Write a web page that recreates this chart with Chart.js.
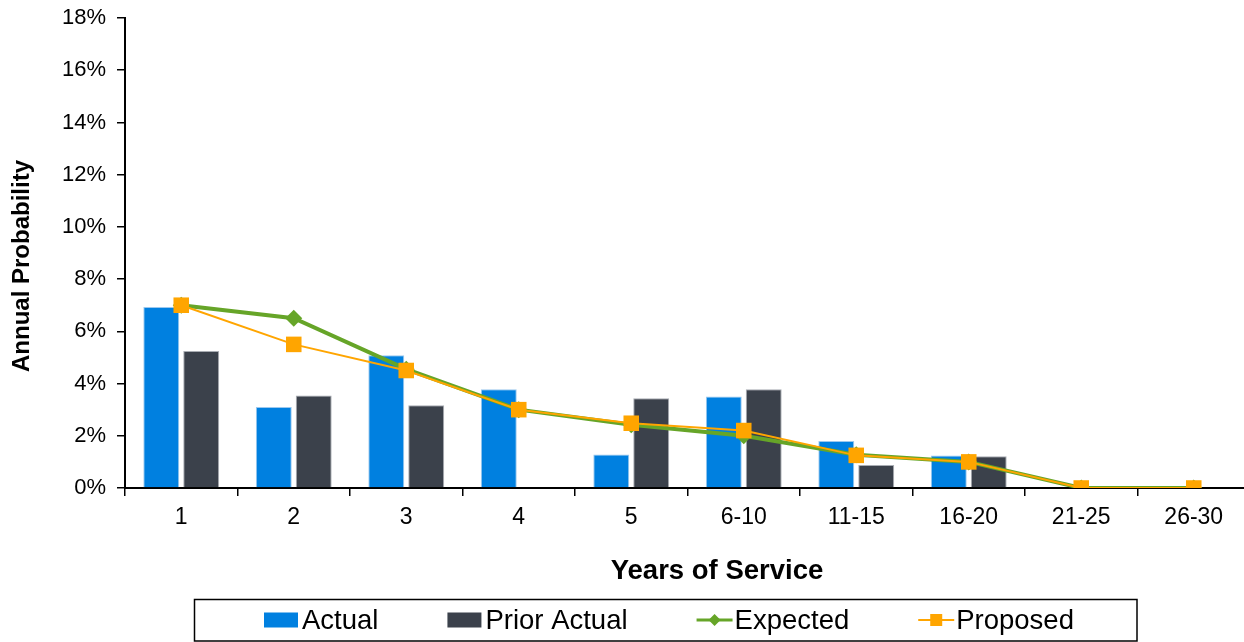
<!DOCTYPE html>
<html>
<head>
<meta charset="utf-8">
<title>Annual Probability by Years of Service</title>
<script src="https://cdn.jsdelivr.net/npm/chart.js@4.4.0/dist/chart.umd.min.js"></script>
<style>
  html, body { margin: 0; padding: 0; overflow: hidden; background: #fff; }
  #wrap { width: 1261px; height: 642px; }
</style>
</head>
<body>
<div id="wrap"><canvas id="myChart" width="1261" height="642"></canvas></div>
<script>
'use strict';
// values, in percent
let categories = ['1', '2', '3', '4', '5', '6-10', '11-15', '16-20', '21-25', '26-30'];
let actual = [6.93, 3.1, 5.08, 3.78, 1.28, 3.5, 1.8, 1.24, 0, 0];
let priorActual = [5.25, 3.54, 3.17, 0, 3.44, 3.78, 0.88, 1.22, 0, 0];
let expected = [7.0, 6.5, 4.55, 3.0, 2.42, 2.0, 1.27, 1.0, 0, 0];
let proposed = [7.0, 5.5, 4.5, 3.0, 2.48, 2.2, 1.25, 1.0, 0, 0];
let yTicks = [0, 2, 4, 6, 8, 10, 12, 14, 16, 18];
let seriesNames = ['Actual', 'Prior Actual', 'Expected', 'Proposed'];

const FONT = "'Liberation Sans', Arial, sans-serif";
const BLUE = '#0080e0';
const GREY = '#3b414b';
const GREEN = '#66a528';
const ORANGE = '#ffa500';

// axis titles + boxed legend, drawn by hand to match the layout
const extras = {
  id: 'extras',
  afterDraw(chart) {
    const ctx = chart.ctx;
    ctx.save();
    ctx.fillStyle = '#000';
    ctx.textBaseline = 'middle';
    ctx.textAlign = 'center';

    // x title
    ctx.font = 'bold 27.5px ' + FONT;
    ctx.fillText('Years of Service', 717, 571);

    // y title
    ctx.save();
    ctx.translate(22, 266);
    ctx.rotate(-Math.PI / 2);
    ctx.font = 'bold 24px ' + FONT;
    ctx.fillText('Annual Probability', 0, 0);
    ctx.restore();

    // legend
    ctx.strokeStyle = '#000';
    ctx.lineWidth = 1.5;
    ctx.strokeRect(194.5, 599.5, 942.5, 41.5);

    ctx.font = '27.5px ' + FONT;
    ctx.textAlign = 'left';
    let x = 264;
    const cy = 620;
    for (let i = 0; i < seriesNames.length; i++) {
      let d = chart.data.datasets.find(s => s.label === seriesNames[i]);
      if (d.type === 'line') {
        ctx.strokeStyle = d.borderColor;
        ctx.lineWidth = d.pointStyle === 'rectRot' ? 3 : 2;
        ctx.beginPath();
        ctx.moveTo(x, cy);
        ctx.lineTo(x + 36, cy);
        ctx.stroke();
        ctx.fillStyle = d.backgroundColor;
        ctx.beginPath();
        if (d.pointStyle === 'rectRot') {
          ctx.moveTo(x + 18 - 6, cy);
          ctx.lineTo(x + 18, cy - 6);
          ctx.lineTo(x + 18 + 6, cy);
          ctx.lineTo(x + 18, cy + 6);
          ctx.closePath();
        } else {
          ctx.rect(x + 18 - 6, cy - 6, 12, 12);
        }
        ctx.fill();
      } else {
        ctx.fillStyle = d.backgroundColor;
        ctx.fillRect(x, cy - 7.5, 34, 15);
      }
      ctx.fillStyle = '#000';
      ctx.fillText(d.label, x + 38, cy + 1);
      x += 38 + ctx.measureText(d.label).width + 69;
    }
    ctx.restore();
  }
};

let ctx = document.getElementById('myChart').getContext('2d');
let chart = new Chart(ctx, {
  type: 'bar',
  data: {
    labels: categories,
    datasets: [
      {
        type: 'line',
        label: seriesNames[3],
        data: proposed,
        borderColor: ORANGE,
        backgroundColor: ORANGE,
        borderWidth: 2,
        pointStyle: 'rect',
        pointRadius: 11,
        pointBorderWidth: 0,
        order: 1
      },
      {
        type: 'line',
        label: seriesNames[2],
        data: expected,
        borderColor: GREEN,
        backgroundColor: GREEN,
        borderWidth: 4,
        pointStyle: 'rectRot',
        pointRadius: 8.5,
        pointBorderWidth: 0,
        order: 2
      },
      {
        label: seriesNames[0],
        data: actual,
        backgroundColor: BLUE,
        borderColor: '#9cc8ee',
        borderWidth: 1,
        categoryPercentage: 0.71,
        barPercentage: 0.9,
        order: 3
      },
      {
        label: seriesNames[1],
        data: priorActual,
        backgroundColor: GREY,
        borderColor: '#a9adb3',
        borderWidth: 1,
        categoryPercentage: 0.71,
        barPercentage: 0.9,
        order: 4
      }
    ]
  },
  options: {
    responsive: false,
    animation: false,
    devicePixelRatio: 1,
    layout: { padding: { top: 18, right: 2, left: 0, bottom: 0 } },
    plugins: {
      legend: { display: false },
      tooltip: { enabled: false }
    },
    scales: {
      x: {
        grid: {
          offset: true,
          drawOnChartArea: false,
          color: '#000',
          tickLength: 8,
          lineWidth: 1.5
        },
        border: { color: '#000', width: 2 },
        ticks: {
          color: '#000',
          font: { family: FONT, size: 23 },
          padding: 8,
          maxRotation: 0
        },
        afterFit(scale) { scale.height = 154; }
      },
      y: {
        min: 0,
        max: 18,
        afterBuildTicks(scale) { scale.ticks = yTicks.map(v => ({ value: v })); },
        grid: {
          drawOnChartArea: false,
          color: '#000',
          tickLength: 8,
          lineWidth: 1.5
        },
        border: { color: '#000', width: 2 },
        ticks: {
          color: '#000',
          font: { family: FONT, size: 22, lineHeight: 0.6 },
          padding: 11,
          callback: v => v + '%'
        },
        afterFit(scale) { scale.width = 125; }
      }
    }
  },
  plugins: [extras]
});
</script>
</body>
</html>
